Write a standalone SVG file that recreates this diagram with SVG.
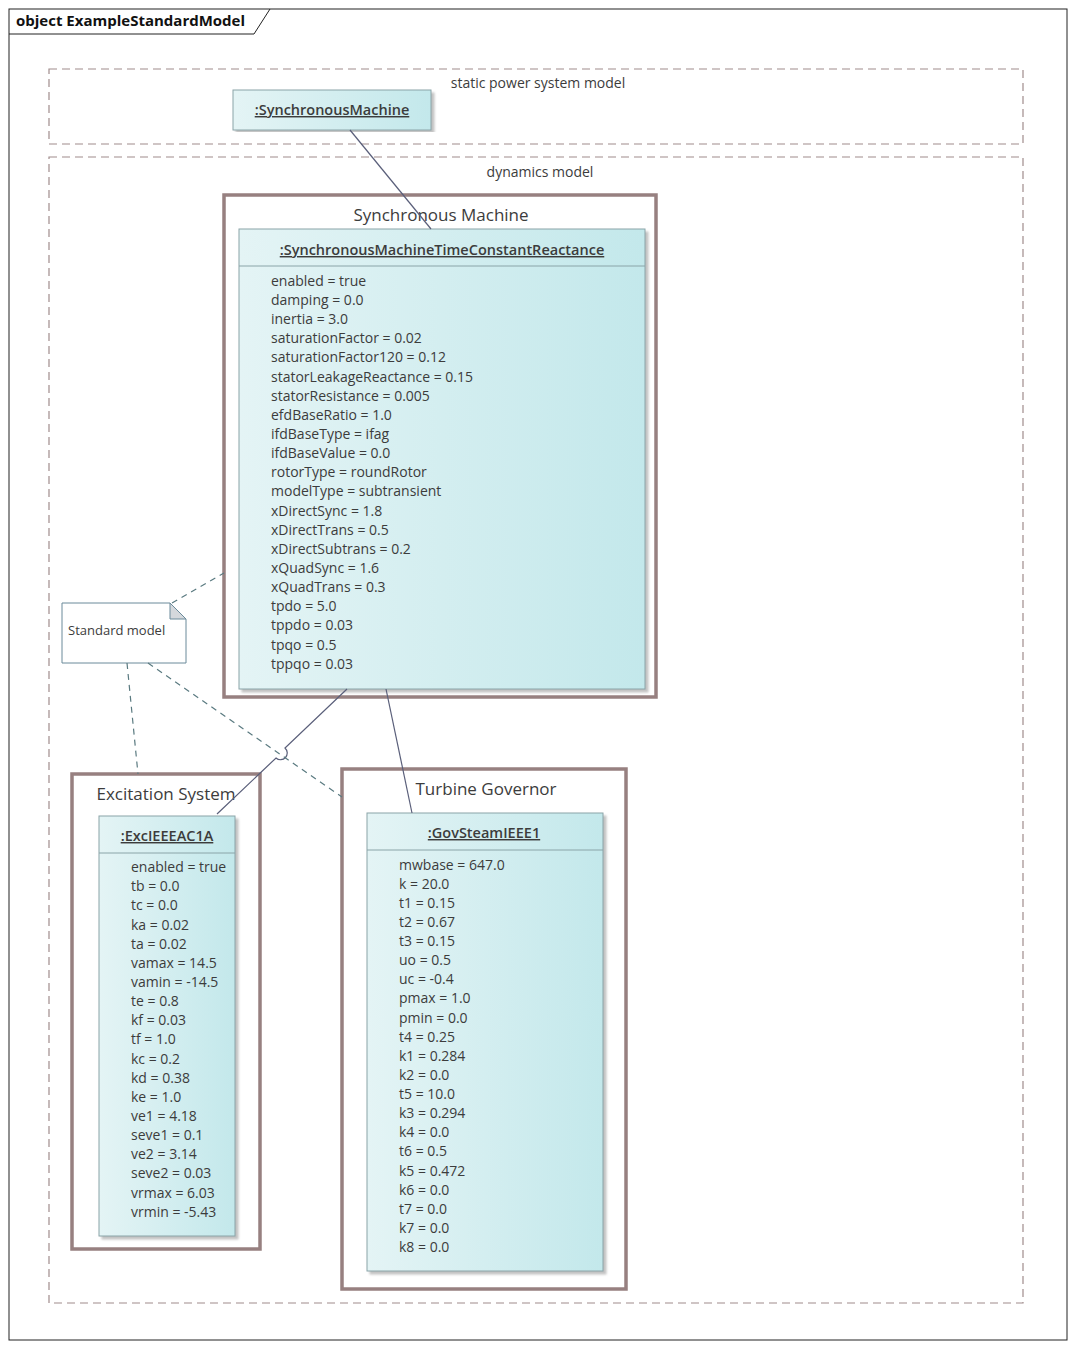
<svg xmlns="http://www.w3.org/2000/svg" width="1074" height="1348" viewBox="0 0 1074 1348">
<style>
text{font-family:"Open Sans","Noto Sans",sans-serif;fill:#3c3c3c}
.pkg{fill:none;stroke:#a08c8c;stroke-width:1.2;stroke-dasharray:8,5}
.bnd{fill:#fff;stroke:#978080;stroke-width:3.5}
.obj{fill:url(#g);stroke:#8aa4a8;stroke-width:1;filter:url(#sh)}
.hd{font-size:14.5px;font-weight:600;text-decoration:underline;text-anchor:middle}
.at{font-size:14px}
.bt{font-size:17px;text-anchor:middle}
.con{fill:none;stroke:#5a5f7a;stroke-width:1.2}
.dash{fill:none;stroke:#5a7a80;stroke-width:1.2;stroke-dasharray:6,5}
</style>
<defs>
<linearGradient id="g" x1="0" x2="1" y1="0" y2="0"><stop offset="0" stop-color="#e4f4f5"/><stop offset="1" stop-color="#c3e8eb"/></linearGradient>
<filter id="sh" x="-5%" y="-5%" width="110%" height="110%"><feDropShadow dx="3" dy="3" stdDeviation="1.2" flood-color="#999" flood-opacity="0.6"/></filter>
</defs>
<rect x="0" y="0" width="1074" height="1348" fill="#fff"/>
<g id="frame">
<rect x="9" y="9" width="1058" height="1331" fill="none" stroke="#222" stroke-width="1"/>
<path d="M9,34 H254 L270,9" fill="none" stroke="#222" stroke-width="1"/>
<text x="16" y="26" style="font-size:15px;font-weight:bold;fill:#111">object ExampleStandardModel</text>
</g>
<g id="static"><rect class="pkg" x="49" y="69" width="974" height="75"/><text x="538" y="88" style="font-size:14px;text-anchor:middle">static power system model</text></g>
<g id="dynamics"><rect class="pkg" x="49" y="157" width="974" height="1146"/><text x="540" y="177" style="font-size:14px;text-anchor:middle">dynamics model</text></g>
<g id="smBoundary"><rect class="bnd" x="224" y="195" width="432" height="502"/><text class="bt" x="441" y="221">Synchronous Machine</text></g>
<g id="exBoundary"><rect class="bnd" x="72" y="774" width="188" height="475"/><text class="bt" x="166" y="800">Excitation System</text></g>
<g id="tgBoundary"><rect class="bnd" x="342" y="769" width="284" height="520"/><text class="bt" x="486" y="795">Turbine Governor</text></g>
<g id="syncMachine"><rect class="obj" x="233" y="90" width="198" height="40"/><text class="hd" x="332" y="115">:SynchronousMachine</text></g>
<g id="smtcr"><rect class="obj" x="239" y="229" width="406" height="460"/><line x1="239" y1="266" x2="645" y2="266" stroke="#8aa4a8"/>
<text class="hd" x="442" y="255">:SynchronousMachineTimeConstantReactance</text>
<text class="at" x="271" y="286">enabled = true</text>
<text class="at" x="271" y="305">damping = 0.0</text>
<text class="at" x="271" y="324">inertia = 3.0</text>
<text class="at" x="271" y="343">saturationFactor = 0.02</text>
<text class="at" x="271" y="362">saturationFactor120 = 0.12</text>
<text class="at" x="271" y="382">statorLeakageReactance = 0.15</text>
<text class="at" x="271" y="401">statorResistance = 0.005</text>
<text class="at" x="271" y="420">efdBaseRatio = 1.0</text>
<text class="at" x="271" y="439">ifdBaseType = ifag</text>
<text class="at" x="271" y="458">ifdBaseValue = 0.0</text>
<text class="at" x="271" y="477">rotorType = roundRotor</text>
<text class="at" x="271" y="496">modelType = subtransient</text>
<text class="at" x="271" y="516">xDirectSync = 1.8</text>
<text class="at" x="271" y="535">xDirectTrans = 0.5</text>
<text class="at" x="271" y="554">xDirectSubtrans = 0.2</text>
<text class="at" x="271" y="573">xQuadSync = 1.6</text>
<text class="at" x="271" y="592">xQuadTrans = 0.3</text>
<text class="at" x="271" y="611">tpdo = 5.0</text>
<text class="at" x="271" y="630">tppdo = 0.03</text>
<text class="at" x="271" y="650">tpqo = 0.5</text>
<text class="at" x="271" y="669">tppqo = 0.03</text>
</g>
<g id="excIEEEAC1A"><rect class="obj" x="99" y="816" width="136" height="420"/><line x1="99" y1="853" x2="235" y2="853" stroke="#8aa4a8"/>
<text class="hd" x="167" y="841">:ExcIEEEAC1A</text>
<text class="at" x="131" y="872">enabled = true</text>
<text class="at" x="131" y="891">tb = 0.0</text>
<text class="at" x="131" y="910">tc = 0.0</text>
<text class="at" x="131" y="930">ka = 0.02</text>
<text class="at" x="131" y="949">ta = 0.02</text>
<text class="at" x="131" y="968">vamax = 14.5</text>
<text class="at" x="131" y="987">vamin = -14.5</text>
<text class="at" x="131" y="1006">te = 0.8</text>
<text class="at" x="131" y="1025">kf = 0.03</text>
<text class="at" x="131" y="1044">tf = 1.0</text>
<text class="at" x="131" y="1064">kc = 0.2</text>
<text class="at" x="131" y="1083">kd = 0.38</text>
<text class="at" x="131" y="1102">ke = 1.0</text>
<text class="at" x="131" y="1121">ve1 = 4.18</text>
<text class="at" x="131" y="1140">seve1 = 0.1</text>
<text class="at" x="131" y="1159">ve2 = 3.14</text>
<text class="at" x="131" y="1178">seve2 = 0.03</text>
<text class="at" x="131" y="1198">vrmax = 6.03</text>
<text class="at" x="131" y="1217">vrmin = -5.43</text>
</g>
<g id="govSteamIEEE1"><rect class="obj" x="367" y="813" width="236" height="458"/><line x1="367" y1="850" x2="603" y2="850" stroke="#8aa4a8"/>
<text class="hd" x="484" y="838">:GovSteamIEEE1</text>
<text class="at" x="399" y="870">mwbase = 647.0</text>
<text class="at" x="399" y="889">k = 20.0</text>
<text class="at" x="399" y="908">t1 = 0.15</text>
<text class="at" x="399" y="927">t2 = 0.67</text>
<text class="at" x="399" y="946">t3 = 0.15</text>
<text class="at" x="399" y="965">uo = 0.5</text>
<text class="at" x="399" y="984">uc = -0.4</text>
<text class="at" x="399" y="1003">pmax = 1.0</text>
<text class="at" x="399" y="1023">pmin = 0.0</text>
<text class="at" x="399" y="1042">t4 = 0.25</text>
<text class="at" x="399" y="1061">k1 = 0.284</text>
<text class="at" x="399" y="1080">k2 = 0.0</text>
<text class="at" x="399" y="1099">t5 = 10.0</text>
<text class="at" x="399" y="1118">k3 = 0.294</text>
<text class="at" x="399" y="1137">k4 = 0.0</text>
<text class="at" x="399" y="1156">t6 = 0.5</text>
<text class="at" x="399" y="1176">k5 = 0.472</text>
<text class="at" x="399" y="1195">k6 = 0.0</text>
<text class="at" x="399" y="1214">t7 = 0.0</text>
<text class="at" x="399" y="1233">k7 = 0.0</text>
<text class="at" x="399" y="1252">k8 = 0.0</text>
</g>
<g id="note"><path d="M62,603 H170 L186,619 V663 H62 Z" fill="#fff" stroke="#6a8a9a" stroke-width="1"/><path d="M170,603 V619 H186 Z" fill="#d4d8dc" stroke="#6a8a9a" stroke-width="1"/><text x="68" y="635" style="font-size:13px">Standard model</text></g>
<g id="connectors">
<line class="con" x1="350" y1="130" x2="431" y2="229"/>
<path class="con" d="M347,689 L285,748 A6,6 0 0 1 276,758 L217,814"/>
<line class="con" x1="386" y1="689" x2="412" y2="813"/>
<line class="dash" x1="172" y1="603" x2="224" y2="573"/>
<line class="dash" x1="127" y1="663" x2="138" y2="774"/>
<line class="dash" x1="148" y1="663" x2="342" y2="797"/>
</g>
</svg>
